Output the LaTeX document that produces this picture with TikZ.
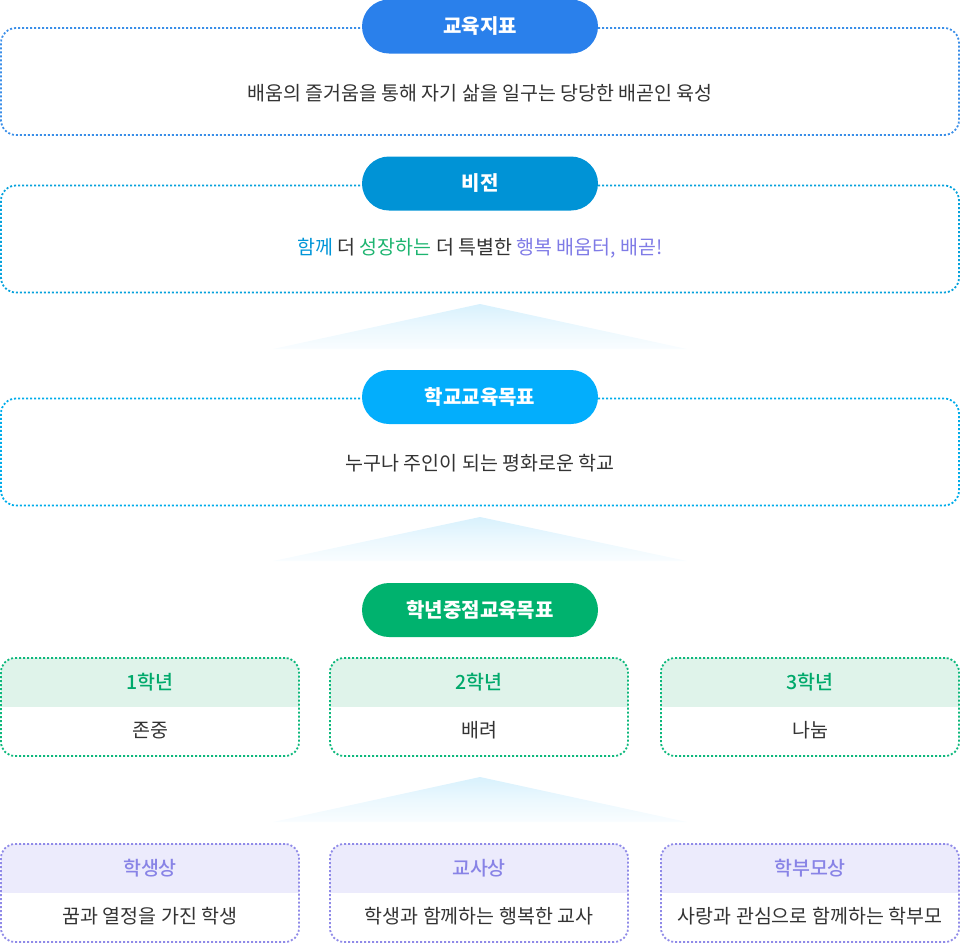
\documentclass[tikz,border=0pt]{standalone}
\usepackage{fontspec}
\setmainfont{Noto Sans CJK KR}
\newfontfamily\medfont{Noto Sans CJK KR Medium}
\usetikzlibrary{positioning}

\definecolor{txtdark}{HTML}{333333}
\definecolor{blueA}{HTML}{2A80EB}
\definecolor{blueB}{HTML}{0093D6}
\definecolor{blueC}{HTML}{03AEFC}
\definecolor{lineA}{HTML}{3A8EE8}
\definecolor{lineB}{HTML}{06A2DC}
\definecolor{lineC}{HTML}{00ACEA}
\definecolor{greenA}{HTML}{00B26E}
\definecolor{greenT}{HTML}{00A96B}
\definecolor{greenL}{HTML}{0DB87C}
\definecolor{greenH}{HTML}{DFF3EA}
\definecolor{purpT}{HTML}{8883E6}
\definecolor{purpL}{HTML}{8F8AE8}
\definecolor{purpH}{HTML}{ECEBFC}
\definecolor{visBlue}{HTML}{0095D8}
\definecolor{visGreen}{HTML}{1DB470}
\definecolor{visPurp}{HTML}{7F7BE6}
\definecolor{fanTop}{HTML}{D8F1FD}

\begin{document}
\begin{tikzpicture}[x=1pt, y=-1pt,
  bigbox/.style={draw=#1, line width=1.8pt, dash pattern=on 2pt off 2pt,
    rounded corners=15pt, minimum width=958pt, minimum height=107pt},
  pill/.style={fill=#1, rounded corners=27pt, minimum width=236pt,
    minimum height=54pt, text=white, font=\bfseries\fontsize{20}{24}\selectfont},
  body/.style={text=txtdark, font=\fontsize{19.5}{23}\selectfont},
  head/.style={text=#1, font=\medfont\fontsize{19.5}{23}\selectfont},
  smallbox/.style={draw=#1, line width=1.8pt, dash pattern=on 2pt off 2pt,
    rounded corners=14pt, minimum width=298pt, minimum height=98pt},
  headfill/.style={path picture={\fill[#1, sharp corners] (path picture bounding box.west)
    rectangle (path picture bounding box.north east);}},
  fan/.style={top color=fanTop, bottom color=fanTop!15, middle color=fanTop!50, draw=none}]
  \useasboundingbox (0,0) rectangle (960,943);

  % fans
  \shade[fan] (480,304) -- (687,349) -- (273,349) -- cycle;
  \shade[fan] (480,517) -- (687,561) -- (273,561) -- cycle;
  \shade[fan] (480,777) -- (687,822) -- (273,822) -- cycle;

  % top three rows
  \node[bigbox=lineA] (b1) at (480,81.5) {};
  \node[pill=blueA] (p1) at (480,26.5) {교육지표};
  \node[body] (t1) at ([yshift=-11.5pt]b1.center) {배움의 즐거움을 통해 자기 삶을 일구는 당당한 배곧인 육성};

  \node[bigbox=lineB] (b2) at (480,239) {};
  \node[pill=blueB] (p2) at (480,183.5) {비전};
  \node[body] (t2) at ([yshift=-9pt]b2.center) {\textcolor{visBlue}{함께} 더 \textcolor{visGreen}{성장하는} 더 특별한 \textcolor{visPurp}{행복 배움터, 배곧!}};

  \node[bigbox=lineC] (b3) at (480,452) {};
  \node[pill=blueC] (p3) at (480,397) {학교교육목표};
  \node[body] (t3) at ([yshift=-11pt]b3.center) {누구나 주인이 되는 평화로운 학교};

  \node[pill=greenA] (p4) at (480,610) {학년중점교육목표};

  % grades
  \foreach \i/\x/\ttl/\txt in {1/150/1학년/존중, 2/479/2학년/배려, 3/810/3학년/나눔} {
    \node[smallbox=greenL, headfill=greenH] (g\i) at (\x,707) {};
    \node[head=greenT] (gh\i) at ([yshift=24.5pt]g\i.center) {\ttl};
    \node[body] (gt\i) at ([yshift=-23.5pt]g\i.center) {\txt};
  }

  % people
  \foreach \i/\x/\ttl/\txt in {1/150/학생상/꿈과 열정을 가진 학생, 2/479/교사상/학생과 함께하는 행복한 교사, 3/810/학부모상/사랑과 관심으로 함께하는 학부모} {
    \node[smallbox=purpL, headfill=purpH] (m\i) at (\x,893) {};
    \node[head=purpT] (mh\i) at ([yshift=24.5pt]m\i.center) {\ttl};
    \node[body] (mt\i) at ([yshift=-23.5pt]m\i.center) {\txt};
  }
\end{tikzpicture}
\end{document}
